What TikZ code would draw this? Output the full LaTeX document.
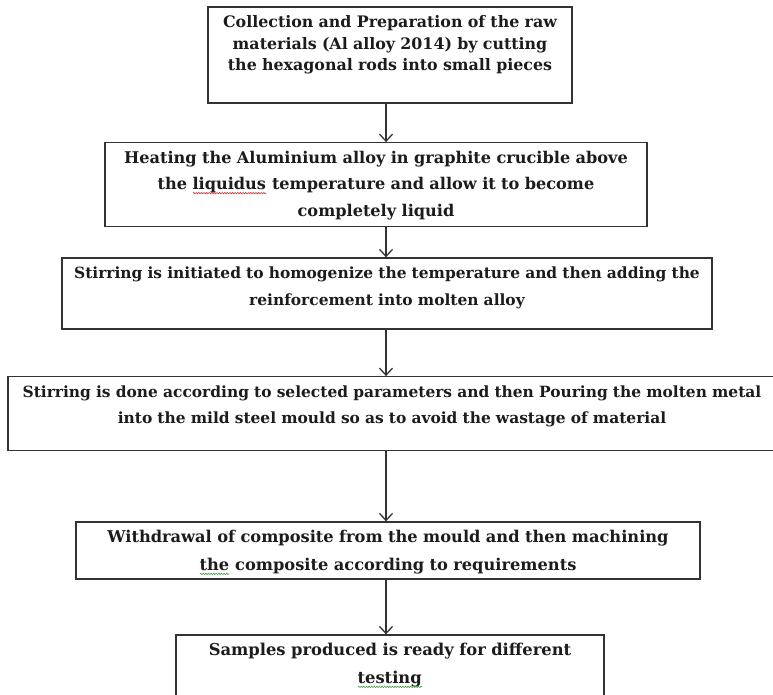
\documentclass[tikz,border=0pt]{standalone}
\usepackage{fontspec}
\setmainfont{DejaVu Serif}
\usepackage{xcolor}
\usetikzlibrary{arrows.meta,decorations.pathmorphing}
\definecolor{Ink}{HTML}{1C1C1C}
\definecolor{Frame}{HTML}{333333}
\definecolor{Spell}{HTML}{D23030}
\definecolor{Grammar}{HTML}{4A9A4A}
\newsavebox{\wordbox}
\newlength{\wordwd}
\newcommand{\wavemark}[2]{\leavevmode\sbox{\wordbox}{#2}\setlength{\wordwd}{\wd\wordbox}\rlap{\usebox{\wordbox}}\tikz[baseline=0pt]\draw[#1,line width=0.6bp,decorate,decoration={snake,amplitude=0.7bp,segment length=2.6bp}] (0pt,-3.5pt) -- (\wordwd,-3.5pt);}
\newcommand{\stepfont}[2]{\bfseries\fontsize{#1}{#2}\selectfont}

\begin{document}
\begin{tikzpicture}[x=1bp,y=-1bp,
  stepbox/.style={draw=Frame,line width=1.3bp,fill=white,align=center,text=Ink,inner sep=0pt,text width=#1,text height=20.5bp,font=\stepfont{16}{26.5}},
  flow/.style={-{Straight Barb[length=7bp,width=13bp]},draw=Frame,line width=1.3bp}
]
\useasboundingbox[fill=white] (0,0) rectangle (773,695);
\coordinate (spine) at (386,0);
\node[stepbox=364bp,text depth=75.5bp,font=\stepfont{15.9}{21.7}] (collect) at (390,55) {Collection and Preparation of the raw\\materials (Al alloy 2014) by cutting\\the hexagonal rods into small pieces};
\node[stepbox=542bp,text depth=63bp,font=\stepfont{16.2}{26.5}] (heat) at (376,184.5) {Heating the Aluminium alloy in graphite crucible above\\the \wavemark{Spell}{liquidus} temperature and allow it to become\\completely liquid};
\node[stepbox=650bp,text depth=50.5bp,font=\stepfont{15.5}{27}] (stir) at (387,293.5) {Stirring is initiated to homogenize the temperature and then adding the\\reinforcement into molten alloy};
\node[stepbox=768bp,text depth=53bp,font=\stepfont{15.5}{26}] (pour) at (392,413.5) {Stirring is done according to selected parameters and then Pouring the molten metal\\into the mild steel mould so as to avoid the wastage of material};
\node[stepbox=624bp,text depth=36.5bp,font=\stepfont{16.3}{28}] (machine) at (388,550.5) {Withdrawal of composite from the mould and then machining\\\wavemark{Grammar}{the} composite according to requirements};
\node[stepbox=428bp,text depth=54.5bp,font=\stepfont{16.4}{28}] (sample) at (390,672.5) {Samples produced is ready for different\\\wavemark{Grammar}{testing}};
\draw[flow] (collect.south -| spine) -- (heat.north -| spine);
\draw[flow] (heat.south -| spine) -- (stir.north -| spine);
\draw[flow] (stir.south -| spine) -- (pour.north -| spine);
\draw[flow] (pour.south -| spine) -- (machine.north -| spine);
\draw[flow] (machine.south -| spine) -- (sample.north -| spine);
\end{tikzpicture}
\end{document}
